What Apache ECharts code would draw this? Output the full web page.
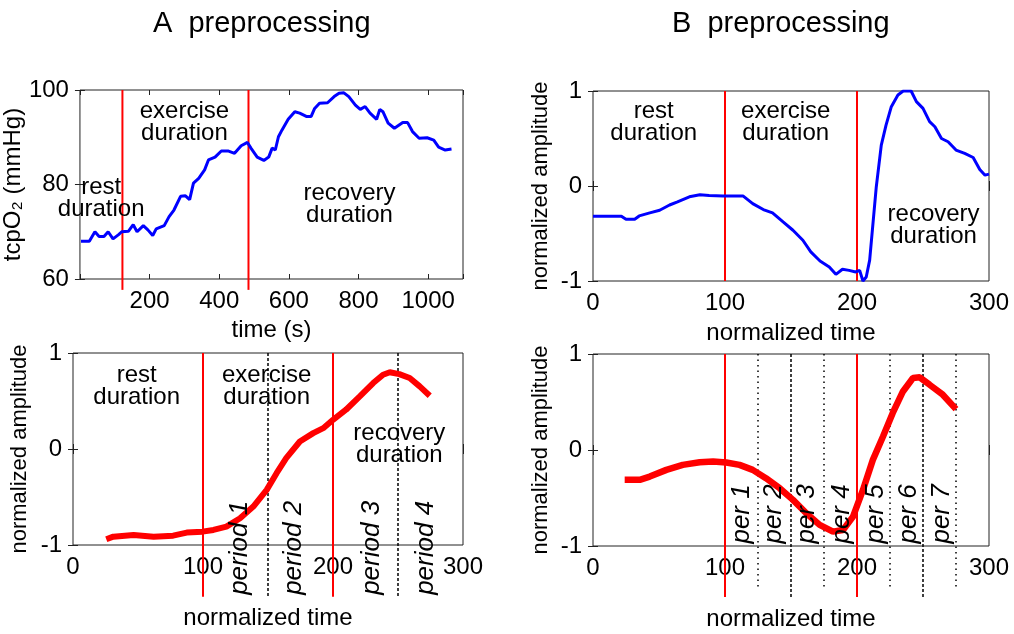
<!DOCTYPE html>
<html>
<head>
<meta charset="utf-8">
<script src="https://cdn.jsdelivr.net/npm/echarts@6/dist/echarts.min.js"></script>
<style>html,body{margin:0;padding:0;background:#fff}#c{width:1014px;height:634px}</style>
</head>
<body>
<div id="c"></div>
<script>
// ---------- data ----------
const titles = ['A  preprocessing', 'B  preprocessing'];

// Panel A (top-left): raw tcpO2
const timeA = [3,27,43,55,69,81,95,111,120,139,153,164,182,195,209,219,242,256,270,289,303,315,326,341,358,369,388,406,425,444,463,481,491,509,528,542,552,561,570,580,598,617,631,650,664,674,688,711,730,744,758,772,791,805,819,833,852,861,870,885,903,927,941,955,974,997,1016,1030,1049,1067];
const tcpO2A = [68.0,68.0,70.0,69.0,69.0,70.0,68.5,69.4,70.0,70.1,71.5,70.0,71.3,70.4,69.2,70.6,71.3,73.2,74.6,77.5,77.6,76.8,80.3,81.3,83.1,85.2,85.8,87.1,87.1,86.6,88.2,88.9,87.7,85.8,85.1,85.8,87.7,87.3,90.1,91.5,93.8,95.4,95.1,94.4,94.4,96.1,97.2,97.3,98.6,99.3,99.4,98.6,96.8,95.9,96.5,95.1,93.8,95.9,95.4,93.0,91.9,93.1,93.1,91.2,89.8,89.9,89.4,87.9,87.3,87.5];
const boundsA = [122, 484];
const ticksXA = [0, 1100, 200];
const ticksYA = [60, 100, 20];

// Panel B (top-right): normalized
const timeB = [0,21.5,25,31.6,35,43,50.5,58,64,73,81,88,98.5,113.6,121,129,136,144,151.5,159,165,172,179,184,189,194,199,202,204.5,207,209.6,214.6,218.4,222,226,231,235,241,245,250,255,259,264,269,275,281.6,288,293,297,300];
const ampB = [-0.318,-0.318,-0.35,-0.35,-0.315,-0.283,-0.255,-0.2,-0.167,-0.114,-0.093,-0.1,-0.104,-0.104,-0.185,-0.248,-0.283,-0.378,-0.466,-0.571,-0.694,-0.789,-0.852,-0.93,-0.877,-0.888,-0.905,-0.888,-1.0,-0.958,-0.78,-0.01,0.43,0.64,0.835,0.958,1.0,1.0,0.888,0.817,0.677,0.624,0.5,0.466,0.378,0.343,0.3,0.174,0.114,0.125];
const boundsB = [100, 200];

// Panel C (bottom-left)
const timeC = [25.6,31,46.6,62,77,87.5,99.6,108,118,128.5,138.7,149,156.6,164,174.5,184.8,192.5,200,210,220.6,230.9,238.5,243.7,251,259,266.7,274.4];
const ampC = [-0.94,-0.913,-0.896,-0.913,-0.903,-0.871,-0.861,-0.843,-0.809,-0.722,-0.6,-0.426,-0.252,-0.096,0.078,0.165,0.217,0.304,0.409,0.548,0.687,0.774,0.8,0.78,0.739,0.652,0.555];
const boundsC = [100, 200];
const dashedC = [150, 250];
const periodLabelsC = ['period 1','period 2','period 3','period 4'];
const periodPosC = [128.5, 170, 230, 271];

// Panel D (bottom-right)
const timeD = [24,35.4,43,55.6,68,80.8,91,101,111,121,131,141.4,151.5,161.6,171.7,181.8,189.4,197,204.5,212,219.7,227,234.8,242.4,247.5,255,265,275];
const ampD = [-0.311,-0.311,-0.277,-0.207,-0.155,-0.127,-0.12,-0.13,-0.155,-0.207,-0.294,-0.398,-0.52,-0.659,-0.78,-0.85,-0.833,-0.694,-0.416,-0.103,0.141,0.384,0.61,0.75,0.757,0.68,0.576,0.426];
const boundsD = [100, 200];
const dashedD = [150, 250];
const dottedD = [125, 175, 225, 275];
const periodLabelsD = ['per 1','per 2','per 3','per 4','per 5','per 6','per 7'];
const periodPosD = [112.4, 137, 162, 188.8, 214, 239, 264];

// phase annotations [text, x, y] in data coordinates
const phaseA = [['rest\nduration', 61, 77.1], ['exercise\nduration', 300, 93.2], ['recovery\nduration', 774, 75.8]];
const phaseB = [['rest\nduration', 46, 0.668], ['exercise\nduration', 146, 0.668], ['recovery\nduration', 258, -0.413]];
const phaseC = [['rest\nduration', 49, 0.655], ['exercise\nduration', 149, 0.655], ['recovery\nduration', 251, 0.053]];

// ---------- build ----------
const FONT = '"Liberation Sans", Arial, sans-serif';
const zip = (xs, ys) => xs.map((x, i) => [x, ys[i]]);

const grids = [
  {left: 73, top: 90, width: 390, height: 189},
  {left: 593, top: 91, width: 396, height: 190},
  {left: 73, top: 353, width: 390, height: 192},
  {left: 593, top: 354, width: 396, height: 192}
].map(g => Object.assign(g, {show: true, borderColor: '#222', borderWidth: 1, backgroundColor: 'transparent'}));

const tickStyle = {show: true, inside: true, length: 5, lineStyle: {color: '#222', width: 1}};
const xNames = ['time (s)', 'normalized time', 'normalized time', 'normalized time'];
const xGaps = [39, 40, 61, 61];
const yNames = ['tcpO\u2082 (mmHg)', 'normalized amplitude', 'normalized amplitude', 'normalized amplitude'];
const yNameSize = [24, 22, 22, 22];
const yGaps = [38, 41, 42, 41];
const xRanges = [ticksXA, [0,300,100], [0,300,100], [0,300,100]];
const yRanges = [ticksYA, [-1,1,1], [-1,1,1], [-1,1,1]];

const xAxis = [], yAxis = [];
for (let i = 0; i < 4; i++) {
  const [xmin, xmax, xint] = xRanges[i];
  const [ymin, ymax, yint] = yRanges[i];
  xAxis.push({
    type: 'value', gridIndex: i, min: xmin, max: xmax, interval: xint, position: 'bottom',
    axisLine: {show: false}, axisTick: tickStyle, splitLine: {show: false},
    axisLabel: {color: '#000', fontSize: 24, fontFamily: FONT, margin: 10,
      formatter: v => (i === 0 && (v === 0 || v === 1100)) ? '' : String(v)},
    name: xNames[i], nameLocation: 'middle', nameGap: xGaps[i],
    nameTextStyle: {color: '#000', fontSize: 24, fontFamily: FONT}
  });
  xAxis.push({
    type: 'value', gridIndex: i, min: xmin, max: xmax, interval: xint, position: 'top',
    axisLine: {show: false}, axisTick: tickStyle, splitLine: {show: false}, axisLabel: {show: false}
  });
  yAxis.push({
    type: 'value', gridIndex: i, min: ymin, max: ymax, interval: yint, position: 'left',
    axisLine: {show: false}, axisTick: tickStyle, splitLine: {show: false},
    axisLabel: {color: '#000', fontSize: 24, fontFamily: FONT, margin: 11},
    name: yNames[i], nameLocation: 'middle', nameGap: yGaps[i],
    nameTextStyle: {color: '#000', fontSize: yNameSize[i], fontFamily: FONT}
  });
  yAxis.push({
    type: 'value', gridIndex: i, min: ymin, max: ymax, interval: yint, position: 'right',
    axisLine: {show: false}, axisTick: tickStyle, splitLine: {show: false}, axisLabel: {show: false}
  });
}

const series = [];
function curve(i, xs, ys, color, width) {
  series.push({type: 'line', xAxisIndex: 2*i, yAxisIndex: 2*i, data: zip(xs, ys), showSymbol: false, symbol: 'none',
    lineStyle: {color, width}, animation: false, z: 3});
}
function vline(i, x, y0, y1, color, width, type, z) {
  series.push({type: 'line', xAxisIndex: 2*i, yAxisIndex: 2*i, data: [[x, y0], [x, y1]], symbol: 'none', showSymbol: false,
    clip: false, lineStyle: {color, width, type}, animation: false, z: z || 2});
}
function labels(i, items, style) {
  series.push({type: 'scatter', xAxisIndex: 2*i, yAxisIndex: 2*i, clip: false, symbolSize: 1,
    itemStyle: {color: 'rgba(0,0,0,0)', opacity: 1}, animation: false, z: 5, silent: true,
    data: items.map(it => ({value: [it[1], it[2]], name: it[0]})),
    label: Object.assign({show: true, position: 'inside', formatter: p => p.name, color: '#000', fontFamily: FONT,
      fontSize: 24, lineHeight: 22, align: 'center', verticalAlign: 'middle', textBorderWidth: 0, opacity: 1}, style || {})});
}

// Panel A
boundsA.forEach(x => vline(0, x, 100, 57.7, '#ff0000', 2, 'solid'));
curve(0, timeA, tcpO2A, '#0000ff', 3);
labels(0, phaseA);
// Panel B
boundsB.forEach(x => vline(1, x, 1, -1, '#ff0000', 2, 'solid'));
curve(1, timeB, ampB, '#0000ff', 3);
labels(1, phaseB);
// Panel C
boundsC.forEach(x => vline(2, x, 1, -1.54, '#ff0000', 2, 'solid'));
dashedC.forEach(x => vline(2, x, 1, -1.54, '#000', 1.5, [3, 2]));
curve(2, timeC, ampC, '#ff0000', 6);
labels(2, phaseC);
labels(2, periodLabelsC.map((t, k) => [t, periodPosC[k], -1.03]), {rotate: 90, fontStyle: 'italic', fontSize: 26});
// Panel D
dottedD.forEach(x => vline(3, x, 1, -1.44, '#000', 1.5, [1.5, 4]));
dashedD.forEach(x => vline(3, x, 1, -1.53, '#000', 1.5, [3, 2]));
boundsD.forEach(x => vline(3, x, 1, -1.53, '#ff0000', 2, 'solid'));
curve(3, timeD, ampD, '#ff0000', 6.5);
labels(3, periodLabelsD.map((t, k) => [t, periodPosD[k], -0.666]), {rotate: 90, fontStyle: 'italic', fontSize: 26});

const chart = echarts.init(document.getElementById('c'), null, {renderer: 'canvas'});
chart.setOption({
  animation: false,
  backgroundColor: '#fff',
  title: [
    {text: titles[0], left: 153, top: 9, padding: 0, textStyle: {fontSize: 29, fontWeight: 'normal', color: '#000', fontFamily: FONT}},
    {text: titles[1], left: 672, top: 9, padding: 0, textStyle: {fontSize: 29, fontWeight: 'normal', color: '#000', fontFamily: FONT}}
  ],
  grid: grids, xAxis, yAxis, series
});
</script>
</body>
</html>
